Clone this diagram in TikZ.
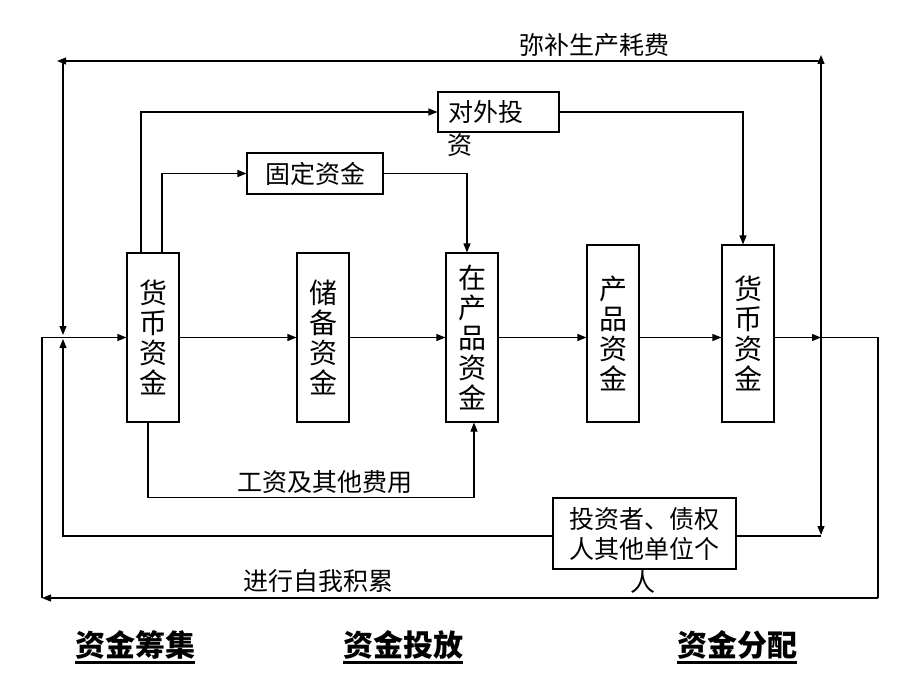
\documentclass[tikz,border=0pt]{standalone}
\usepackage{fontspec}
\setmainfont{Noto Sans CJK SC}
\usetikzlibrary{arrows.meta}
\tikzset{
  box/.style={draw, line width=1.1pt, inner sep=0pt},
  vbox/.style={box, minimum width=52pt, align=center, font=\fontsize{28}{30}\selectfont},
  lbl/.style={inner sep=0pt, font=\fontsize{25}{30}\selectfont},
  head/.style={inner sep=0pt, font=\fontsize{30}{34}\selectfont\bfseries},
  uline/.style={line width=2.5pt},
  ln/.style={line width=1.1pt},
  arr/.style={ln, -{Triangle[length=9pt,width=7pt]}}
}
\begin{document}
\begin{tikzpicture}[x=1pt,y=-1pt]
\useasboundingbox[fill=white] (0,0) rectangle (920,690);
% main boxes
\node[vbox, minimum height=169pt] (m1) at (153,337.5) {货\\币\\资\\金};
\node[vbox, minimum height=169pt] (m2) at (323,337.5) {储\\备\\资\\金};
\node[vbox, minimum height=169pt] (m3) at (472,337.5) {在\\产\\品\\资\\金};
\node[vbox, minimum height=177pt] (m4) at (613,333.5) {产\\品\\资\\金};
\node[vbox, minimum height=177pt] (m5) at (748,333.5) {货\\币\\资\\金};
% upper boxes
\node[box, lbl, minimum width=136pt, minimum height=41pt] (fix) at (315,173.5) {固定资金};
\node[box, lbl, minimum width=121pt, minimum height=40pt, text width=101pt, inner xsep=10pt, align=left] (inv) at (498.5,112) {对外投};
\node[lbl] (inv2) at (460,145) {资};
% investor box
\node[box, lbl, minimum width=183pt, minimum height=71pt, align=center] (ext) at (644.5,533.5) {投资者、债权\\人其他单位个};
\node[lbl] (ext2) at (643,582) {人};
% labels
\node[lbl] (t1) at (594,45) {弥补生产耗费};
\node[lbl] (t2) at (318,581) {进行自我积累};
\node[lbl] (t3) at (325,482) {工资及其他费用};
\node[head] (h1) at (135,645) {资金筹集};
\node[head] (h2) at (403,645) {资金投放};
\node[head] (h3) at (737,645) {资金分配};
\foreach \h in {h1,h2,h3}{
  \draw[uline] ([yshift=-3pt]\h.south west) -- ([yshift=-3pt]\h.south east);
}
% coordinates
\coordinate (rj) at (821,337.5);
\coordinate (rr) at (878,337.5);
\coordinate (rb) at (878,598);
\coordinate (lb) at (42,598);
\coordinate (ll) at (42,337.5);
\coordinate (rtop) at (821,55);
\coordinate (tr) at (821,61);
\coordinate (tla) at (57,61);
\coordinate (tl) at (63,61);
\coordinate (ljd) at (63,335);
\coordinate (lju) at (63,339);
\coordinate (rbot) at (821,535);
\coordinate (rline) at (821,536);
% flow arrows
\draw[arr] (m1.east) -- (m2.west);
\draw[arr] (m2.east) -- (m3.west);
\draw[arr] (m3.east) -- (m3.east -| m4.west);
\draw[arr] (m4.east |- m3.east) -- (m5.west |- m3.east);
\draw[arr] ([xshift=-12pt]m1.north) |- (inv.west);
\draw[arr] ([xshift=9pt]m1.north) |- (fix.west);
\draw[arr] (fix.east) -| ([xshift=-5pt]m3.north);
\draw[arr] (inv.east) -| ([xshift=-5pt]m5.north);
\draw[arr] ([xshift=-5pt]m1.south) -- ++(0,75) -| ([xshift=2pt]m3.south);
% right distribution
\draw[arr] (m5.east |- m3.east) -- (rj);
\draw[ln] (rj) -- (rr) -- (rb);
\draw[arr] (rb) -- (lb);
\draw[arr] (lb) -- (ll) -- (m1.west);
\draw[arr] (rj) -- (rtop);
\draw[arr] (tr) -- (tla);
\draw[arr] (tl) -- (ljd);
\draw[arr] (rj) -- (rbot);
\draw[ln] (rline) -- (ext.east |- rline);
\draw[arr] (ext.west |- rline) -| (lju);
\end{tikzpicture}
\end{document}
